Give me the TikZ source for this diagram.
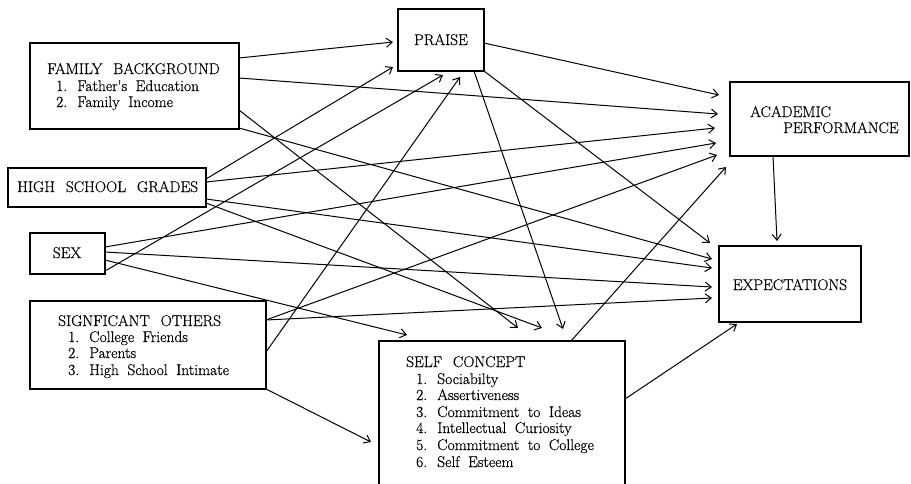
\documentclass[tikz,border=0pt]{standalone}
\usepackage{fontspec}
\newfontfamily\dfont{Latin Modern Roman}[FakeBold=0.5]
\usetikzlibrary{arrows.meta,calc}
\newcommand\mywsp{\spaceskip=0.55em plus 0.1em minus 0.05em\relax}
\newcommand\mywspcap{\spaceskip=0.7em plus 0.1em minus 0.05em\relax}
\begin{document}
\begin{tikzpicture}[x=1pt,y=-1pt,
  box/.style={draw, line width=1.5pt, inner sep=0pt, outer sep=0pt, anchor=north west},
  txt/.style={anchor=base west, inner sep=0pt, font=\dfont\fontsize{15.5}{16.7}\selectfont\mywsp},
  captxt/.style={txt, font=\dfont\fontsize{15.5}{16.7}\selectfont\mywspcap},
  ctxt/.style={captxt, anchor=base},
  arr/.style={line width=1pt, -{Straight Barb[length=6pt,width=9pt,line width=1pt]}}]
\useasboundingbox (0,0) rectangle (911,483);
\clip (0,0) rectangle (911,483);
% boxes
\node[box, minimum width=209pt, minimum height=86pt] (FB) at (30,43) {};
\node[box, minimum width=86pt, minimum height=62pt] (P) at (398,9) {};
\node[box, minimum width=179pt, minimum height=74pt] (AP) at (730,82) {};
\node[box, minimum width=198pt, minimum height=39pt] (HSG) at (8,168) {};
\node[box, minimum width=75pt, minimum height=41pt] (SEX) at (30,233) {};
\node[box, minimum width=142pt, minimum height=76pt] (EXP) at (719,246) {};
\node[box, minimum width=236pt, minimum height=88pt] (SO) at (30,301) {};
\node[box, minimum width=246pt, minimum height=170pt] (SC) at (379,341) {};
% texts
\node[captxt] (fb0) at (47,74) {FAMILY BACKGROUND};
\node[txt] (fb1) at (56,91) {1. Father's Education};
\node[txt] (fb2) at (56,107) {2. Family Income};
\node[ctxt] (p0) at (441,45) {PRAISE};
\node[captxt] (ap0) at (750,117) {ACADEMIC};
\node[captxt] (ap1) at (783,133) {PERFORMANCE};
\node[captxt] (hsg0) at (17,192) {HIGH SCHOOL GRADES};
\node[ctxt] (sex0) at (67,258) {SEX};
\node[ctxt] (exp0) at (790,290) {EXPECTATIONS};
\node[captxt] (so0) at (58,326) {SIGNFICANT OTHERS};
\node[txt] (so1) at (68,342) {1. College Friends};
\node[txt] (so2) at (68,358) {2. Parents};
\node[txt] (so3) at (68,375) {3. High School Intimate};
\node[captxt] (sc0) at (406,367) {SELF CONCEPT};
\node[txt] (sc1) at (416,384) {1. Sociabilty};
\node[txt] (sc2) at (416,400) {2. Assertiveness};
\node[txt] (sc3) at (416,417) {3. Commitment to Ideas};
\node[txt] (sc4) at (416,433) {4. Intellectual Curiosity};
\node[txt] (sc5) at (416,450) {5. Commitment to College};
\node[txt] (sc6) at (416,467) {6. Self Esteem};
% into PRAISE
\draw[arr] ($(FB.north east)+(0,15)$) -- ($(P.west)+(-5,2)$);
\draw[arr] ($(HSG.north east)+(0,11)$) -- ($(P.south west)+(-5,-4)$);
\draw[arr] ($(SEX.north east)+(0,38)$) -- ($(P.south)+(2,4)$);
\draw[arr] ($(SO.north east)+(0,51)$) -- ($(P.south)+(19,6)$);
% into ACADEMIC PERFORMANCE
\draw[arr] ($(P.north east)+(0,34)$) -- ($(AP.north west)+(-11,13)$);
\draw[arr] ($(FB.north east)+(0,35)$) -- ($(AP.north west)+(-12,32)$);
\draw[arr] ($(HSG.north east)+(0,14)$) -- ($(AP.north west)+(-15,46)$);
\draw[arr] ($(SEX.north east)+(0,14)$) -- ($(AP.north west)+(-14,61)$);
\draw[arr] ($(SO.north east)+(0,19)$) -- ($(AP.north west)+(-13,73)$);
\draw[arr] ($(SC.north west)+(192,0)$) -- ($(AP.south west)+(-4,11)$);
% into EXPECTATIONS
\draw[arr] (P.south east) -- ($(EXP.north west)+(-9,-3)$);
\draw[arr] ($(FB.north east)+(0,85)$) -- ($(EXP.north west)+(-7,13)$);
\draw[arr] ($(HSG.north east)+(0,31)$) -- ($(EXP.north west)+(-7,22)$);
\draw[arr] ($(SEX.north east)+(0,19)$) -- ($(EXP.north west)+(-7,41)$);
\draw[arr] ($(SO.north east)+(0,19)$) -- ($(EXP.north west)+(-7,52)$);
\draw[arr] ($(SC.north east)+(0,58)$) -- ($(EXP.south west)+(18,2)$);
\draw[arr] ($(AP.south west)+(43,0)$) -- ($(EXP.north west)+(58,-5)$);
% into SELF CONCEPT
\draw[arr] ($(P.south east)+(-10,0)$) -- ($(SC.north west)+(184,-12)$);
\draw[arr] ($(FB.north east)+(0,67)$) -- ($(SC.north west)+(139,-13)$);
\draw[arr] ($(HSG.north east)+(0,35)$) -- ($(SC.north west)+(163,-13)$);
\draw[arr] ($(SEX.north east)+(0,27)$) -- ($(SC.north west)+(28,-6)$);
\draw[arr] (SO.south east) -- ($(SC.north west)+(-8,101)$);
\end{tikzpicture}
\end{document}
